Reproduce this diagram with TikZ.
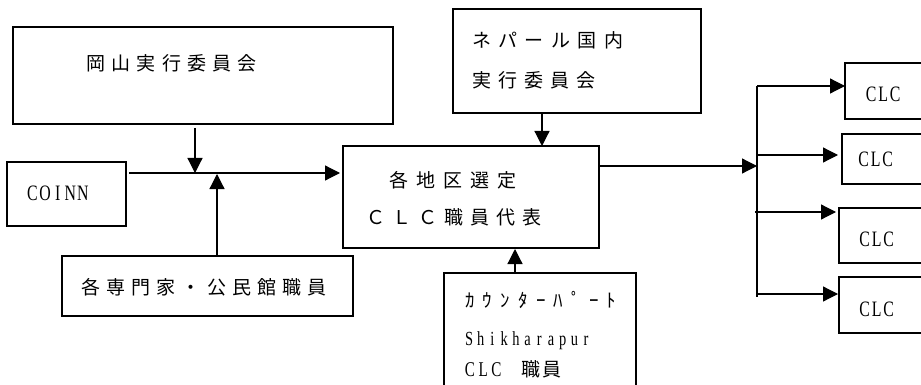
\documentclass[tikz,border=0pt]{standalone}
\usepackage{fontspec}
\usepackage{graphicx}
\setmainfont{Liberation Serif}
\newfontfamily\jp{Noto Sans CJK JP}
\usetikzlibrary{arrows.meta,calc}
\makeatletter
\def\pt@end{}
\newcommand\pitched[3]{\def\pt@w{#1}\def\pt@f{#2}\pt@loop#3\pt@end}
\def\pt@loop#1{\ifx#1\pt@end\else\makebox[\pt@w][l]{\pt@f{#1}}\expandafter\pt@loop\fi}
\newcommand\cpitched[3]{\def\pt@w{#1}\def\pt@f{#2}\pt@cloop#3\pt@end}
\def\pt@cloop#1{\ifx#1\pt@end\else\makebox[\pt@w][c]{\pt@f{#1}}\expandafter\pt@cloop\fi}
\makeatother
\newcommand\idty[1]{#1}
\newcommand\narrow[1]{\scalebox{0.72}[1]{#1}}
\begin{document}
\begin{tikzpicture}[x=1pt,y=-1pt,
  box/.style={draw,line width=1.6pt,inner sep=0pt,outer sep=0pt,anchor=north west},
  ln/.style={line width=1.2pt},
  arr/.style={ln,-{Triangle[length=15pt,width=15pt]}},
  jtxt/.style={inner sep=0pt,anchor=west,font=\jp\fontsize{19}{19}\selectfont},
  ltxt/.style={inner sep=0pt,anchor=base west,font=\fontsize{22}{22}\selectfont}]
\useasboundingbox (0,0) rectangle (921,385);
\fill[white] (0,0) rectangle (921,385);
\clip (0,0) rectangle (921,385);
% boxes
\node[box,minimum width=380pt,minimum height=97pt] (oka) at (13,27) {};
\node[box,minimum width=119pt,minimum height=64pt] (coinn) at (7,162) {};
\node[box,minimum width=291pt,minimum height=60pt] (sen) at (62,256) {};
\node[box,minimum width=256pt,minimum height=102pt] (ctr) at (343,146) {};
\node[box,minimum width=248pt,minimum height=104pt] (nepal) at (453,9) {};
\node[box,minimum width=192pt,minimum height=130pt] (cp) at (444,273) {};
\node[box,minimum width=90pt,minimum height=56pt] (clc1) at (845,63) {};
\node[box,minimum width=90pt,minimum height=50pt] (clc2) at (842,134) {};
\node[box,minimum width=90pt,minimum height=55pt] (clc3) at (839,208) {};
\node[box,minimum width=90pt,minimum height=56pt] (clc4) at (839,277) {};
% texts
\node[jtxt] (t1) at (86,63) {\pitched{25.3pt}{\idty}{岡山実行委員会}};
\node[jtxt] (t2) at (81,287) {\pitched{25.2pt}{\idty}{各専門家・公民館職員}};
\node[jtxt] (t3) at (472,40) {\pitched{26.4pt}{\idty}{ネパール国内}};
\node[jtxt] (t4) at (472,80) {\pitched{26pt}{\idty}{実行委員会}};
\node[jtxt] (t5) at (389,180) {\pitched{27pt}{\idty}{各地区選定}};
\node[jtxt] (t6) at (366,217) {\pitched{26pt}{\idty}{ＣＬＣ職員代表}};
\node[ltxt] (t7) at (26,200.5) {\cpitched{12.6pt}{\narrow}{COINN}};
\node[ltxt] (c1t) at (865,101.5) {\cpitched{12pt}{\narrow}{CLC}};
\node[ltxt] (c2t) at (857.5,166.5) {\cpitched{12pt}{\narrow}{CLC}};
\node[ltxt] (c3t) at (858.5,246.5) {\cpitched{12pt}{\narrow}{CLC}};
\node[ltxt] (c4t) at (858.5,316.5) {\cpitched{12pt}{\narrow}{CLC}};
\node[inner sep=0pt,anchor=west,font=\jp\fontsize{19}{19}\selectfont] (t8) at (461,300) {\cpitched{17.7pt}{\idty}{ｶｳﾝﾀｰﾊﾟｰﾄ}};
\node[ltxt,font=\fontsize{20}{20}\selectfont] (t9) at (463,345) {\cpitched{11.7pt}{\narrow}{Shikharapur}};
\node[ltxt,font=\fontsize{21}{21}\selectfont] (t10) at (463,376) {\cpitched{13.3pt}{\narrow}{CLC}\hspace{18pt}{\jp\fontsize{19}{19}\selectfont\pitched{21pt}{\idty}{職員}}};
% connectors
\coordinate (j1) at (195,173);
\coordinate (j2) at (217,174);
\draw[arr] ($(oka.south -| j1)+(0,4)$) -- (j1);
\draw[arr] (sen.north -| j2) -- (j2);
\draw[arr] ($(coinn.north east)+(3,11)$) -- ($(ctr.north west)+(-3,27)$);
\coordinate (n1) at (542,146);
\draw[arr] (nepal.south -| n1) -- (n1);
\coordinate (cpa) at (515,249);
\draw[arr] (cp.north -| cpa) -- (cpa);
\coordinate (sp) at (757,166);
\draw[arr] (ctr.east |- sp) -- (sp);
\coordinate (bt) at (757,86);
\coordinate (bb) at (757,297);
\draw[ln] (bt) -- (bb);
\draw[arr] (bt) -- (clc1.west |- bt);
\coordinate (b2) at (757,155);
\draw[arr] (b2) -- ($(clc2.west |- b2)+(-4,0)$);
\coordinate (b3) at (755,212);
\draw[arr] (b3) -- ($(clc3.west |- b3)+(-3,0)$);
\coordinate (b4) at (757,294);
\draw[arr] (b4) -- ($(clc4.west |- b4)+(-1,0)$);
\end{tikzpicture}
\end{document}
